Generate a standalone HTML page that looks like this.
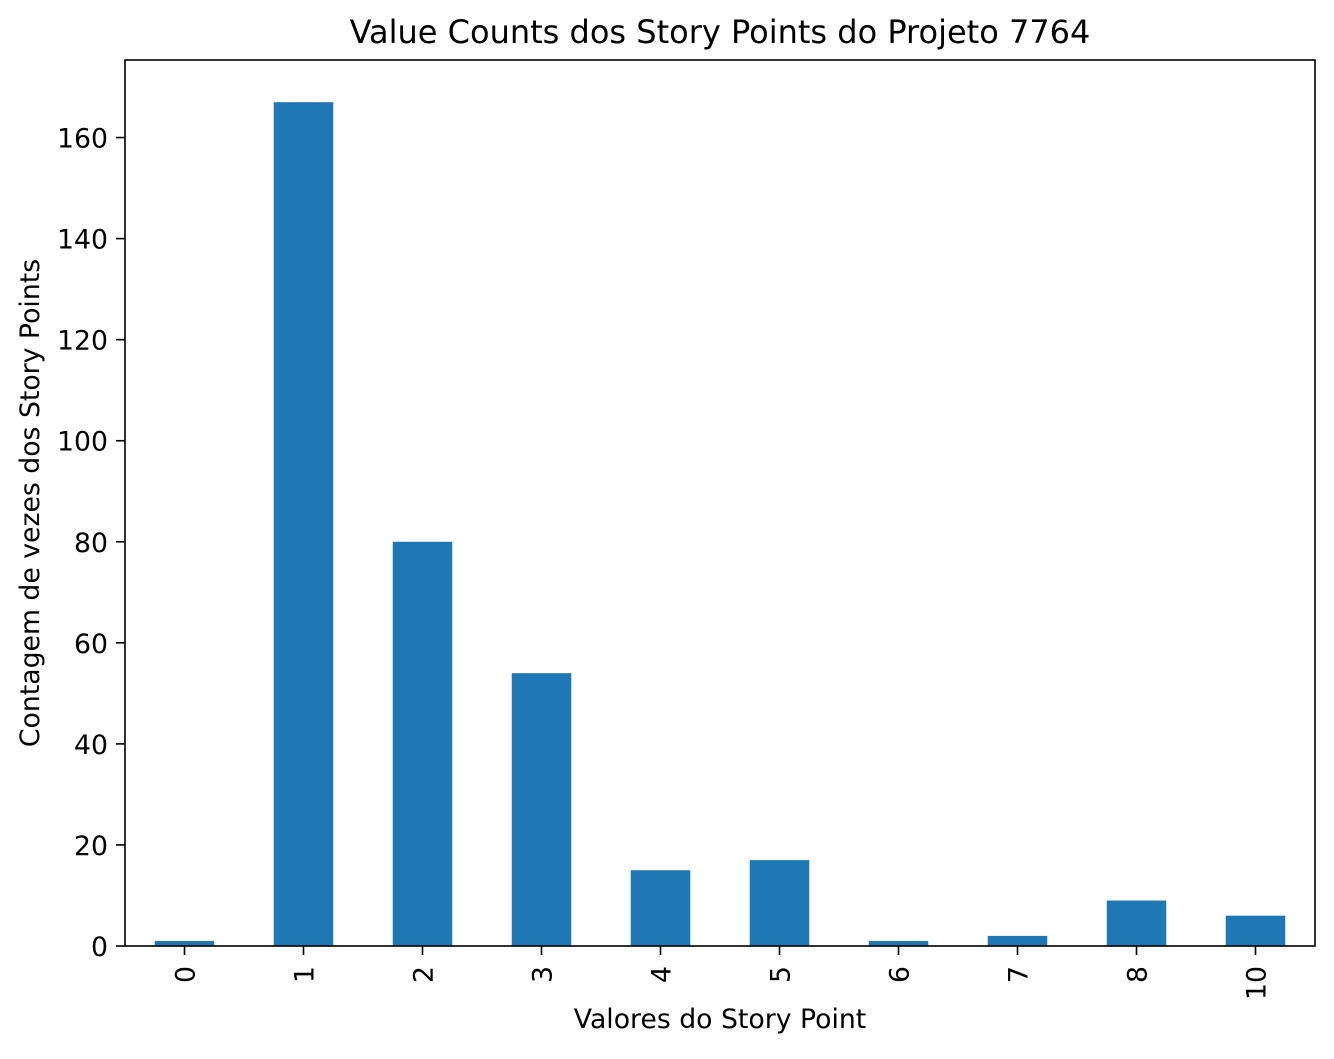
<!DOCTYPE html>
<html><head><meta charset="utf-8"><style>
body{margin:0;background:#fff;}
svg text{font-family:"DejaVu Sans","Liberation Sans",sans-serif;fill:#000;}
</style></head><body>
<svg id="chart" width="1334" height="1054" xmlns="http://www.w3.org/2000/svg">
<rect width="1334" height="1054" fill="#fff"/>
<text x="720" y="43" font-size="32" text-anchor="middle">Value Counts dos Story Points do Projeto 7764</text>
<text x="720" y="1028" font-size="26.7" text-anchor="middle">Valores do Story Point</text>
<text transform="translate(39,503) rotate(-90)" font-size="26.7" text-anchor="middle">Contagem de vezes dos Story Points</text>
<g id="bars"></g><g id="xticks"></g><g id="yticks"></g>
<rect x="125" y="60" width="1190" height="886" fill="none" stroke="#000" stroke-width="1.6"/>
</svg>
<script>
const categories = ["0","1","2","3","4","5","6","7","8","10"];
const counts = [1,167,80,54,15,17,1,2,9,6];
const yTicks = [0,20,40,60,80,100,120,140,160];
const L=125,R=1315,T=60,B=946;
const yMax = Math.max(...counts)*1.05;
const y = v => B - v/yMax*(B-T);
const step = (R-L)/categories.length;
const xc = i => L + step*(i+0.5);
const NS="http://www.w3.org/2000/svg";
const bars=document.getElementById('bars'), xt=document.getElementById('xticks'), yt=document.getElementById('yticks');
categories.forEach((c,i)=>{
  const r=document.createElementNS(NS,'rect');
  r.setAttribute('x',xc(i)-step/4);r.setAttribute('width',step/2);
  r.setAttribute('y',y(counts[i]));r.setAttribute('height',B-y(counts[i]));
  r.setAttribute('fill','#1f77b4');
  
  
  bars.appendChild(r);
  const l=document.createElementNS(NS,'line');
  l.setAttribute('x1',xc(i));l.setAttribute('x2',xc(i));l.setAttribute('y1',B);l.setAttribute('y2',B+9);
  l.setAttribute('stroke','#000');l.setAttribute('stroke-width','1.6');
  
  
  xt.appendChild(l);
  const t=document.createElementNS(NS,'text');
  t.setAttribute('transform',`translate(${xc(i)+10},${B+20}) rotate(-90)`);
  t.setAttribute('font-size','26.7');t.setAttribute('text-anchor','end');
  t.textContent=c;
  
  
  xt.appendChild(t);
});
yTicks.forEach(v=>{
  const l=document.createElementNS(NS,'line');
  l.setAttribute('x1',L-9);l.setAttribute('x2',L);l.setAttribute('y1',y(v));l.setAttribute('y2',y(v));
  l.setAttribute('stroke','#000');l.setAttribute('stroke-width','1.6');
  
  
  yt.appendChild(l);
  const t=document.createElementNS(NS,'text');
  t.setAttribute('x',L-17);t.setAttribute('y',y(v)+10);
  t.setAttribute('font-size','26.7');t.setAttribute('text-anchor','end');
  t.textContent=v;
  
  
  yt.appendChild(t);
});
</script>
</body></html>
